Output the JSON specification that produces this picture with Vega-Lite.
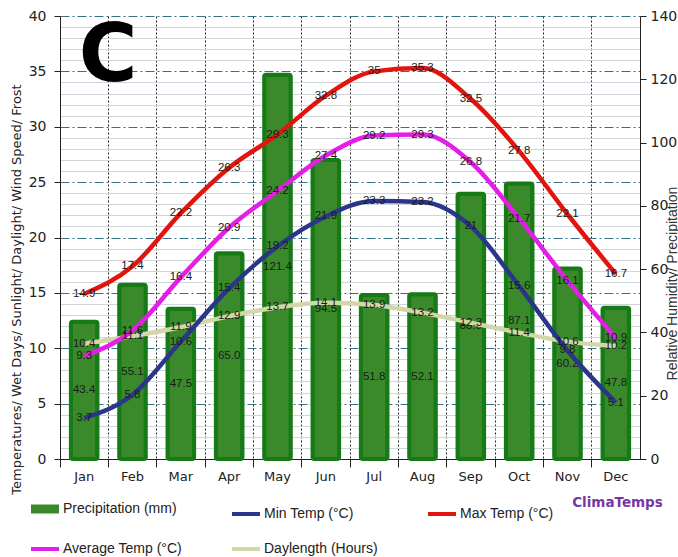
{
  "$schema": "https://vega.github.io/schema/vega-lite/v6.json",
  "width": 580,
  "height": 443,
  "autosize": {"type": "none"},
  "padding": {"left": 60, "top": 16, "right": 38, "bottom": 98},
  "background": "white",
  "config": {"view": {"stroke": null}, "text": {"font": "Liberation Sans"}},
  "datasets": {
    "precip": [
      {"month": "Jan", "precip": 43.4}, {"month": "Feb", "precip": 55.1}, {"month": "Mar", "precip": 47.5},
      {"month": "Apr", "precip": 65.0}, {"month": "May", "precip": 121.4}, {"month": "Jun", "precip": 94.5},
      {"month": "Jul", "precip": 51.8}, {"month": "Aug", "precip": 52.1}, {"month": "Sep", "precip": 83.8},
      {"month": "Oct", "precip": 87.1}, {"month": "Nov", "precip": 60.2}, {"month": "Dec", "precip": 47.8}
    ],
    "temps": [
      {"month": "Jan", "series": "Daylength (Hours)", "temp": 10.4},
      {"month": "Feb", "series": "Daylength (Hours)", "temp": 11.1},
      {"month": "Mar", "series": "Daylength (Hours)", "temp": 11.9},
      {"month": "Apr", "series": "Daylength (Hours)", "temp": 12.9},
      {"month": "May", "series": "Daylength (Hours)", "temp": 13.7},
      {"month": "Jun", "series": "Daylength (Hours)", "temp": 14.1},
      {"month": "Jul", "series": "Daylength (Hours)", "temp": 13.9},
      {"month": "Aug", "series": "Daylength (Hours)", "temp": 13.2},
      {"month": "Sep", "series": "Daylength (Hours)", "temp": 12.3},
      {"month": "Oct", "series": "Daylength (Hours)", "temp": 11.4},
      {"month": "Nov", "series": "Daylength (Hours)", "temp": 10.6},
      {"month": "Dec", "series": "Daylength (Hours)", "temp": 10.2},
      {"month": "Jan", "series": "Min Temp (°C)", "temp": 3.7},
      {"month": "Feb", "series": "Min Temp (°C)", "temp": 5.8},
      {"month": "Mar", "series": "Min Temp (°C)", "temp": 10.6},
      {"month": "Apr", "series": "Min Temp (°C)", "temp": 15.4},
      {"month": "May", "series": "Min Temp (°C)", "temp": 19.2},
      {"month": "Jun", "series": "Min Temp (°C)", "temp": 21.9},
      {"month": "Jul", "series": "Min Temp (°C)", "temp": 23.3},
      {"month": "Aug", "series": "Min Temp (°C)", "temp": 23.2},
      {"month": "Sep", "series": "Min Temp (°C)", "temp": 21},
      {"month": "Oct", "series": "Min Temp (°C)", "temp": 15.6},
      {"month": "Nov", "series": "Min Temp (°C)", "temp": 9.8},
      {"month": "Dec", "series": "Min Temp (°C)", "temp": 5.1},
      {"month": "Jan", "series": "Average Temp (°C)", "temp": 9.3},
      {"month": "Feb", "series": "Average Temp (°C)", "temp": 11.6},
      {"month": "Mar", "series": "Average Temp (°C)", "temp": 16.4},
      {"month": "Apr", "series": "Average Temp (°C)", "temp": 20.9},
      {"month": "May", "series": "Average Temp (°C)", "temp": 24.2},
      {"month": "Jun", "series": "Average Temp (°C)", "temp": 27.4},
      {"month": "Jul", "series": "Average Temp (°C)", "temp": 29.2},
      {"month": "Aug", "series": "Average Temp (°C)", "temp": 29.3},
      {"month": "Sep", "series": "Average Temp (°C)", "temp": 26.8},
      {"month": "Oct", "series": "Average Temp (°C)", "temp": 21.7},
      {"month": "Nov", "series": "Average Temp (°C)", "temp": 16.1},
      {"month": "Dec", "series": "Average Temp (°C)", "temp": 10.9},
      {"month": "Jan", "series": "Max Temp (°C)", "temp": 14.9},
      {"month": "Feb", "series": "Max Temp (°C)", "temp": 17.4},
      {"month": "Mar", "series": "Max Temp (°C)", "temp": 22.2},
      {"month": "Apr", "series": "Max Temp (°C)", "temp": 26.3},
      {"month": "May", "series": "Max Temp (°C)", "temp": 29.3},
      {"month": "Jun", "series": "Max Temp (°C)", "temp": 32.8},
      {"month": "Jul", "series": "Max Temp (°C)", "temp": 35},
      {"month": "Aug", "series": "Max Temp (°C)", "temp": 35.3},
      {"month": "Sep", "series": "Max Temp (°C)", "temp": 32.5},
      {"month": "Oct", "series": "Max Temp (°C)", "temp": 27.8},
      {"month": "Nov", "series": "Max Temp (°C)", "temp": 22.1},
      {"month": "Dec", "series": "Max Temp (°C)", "temp": 16.7}
    ],
    "annotations": [
      {"month": "Jan", "temp": 36.3, "label": "C"}
    ],
    "credit": [
      {"month": "Dec", "temp": -4.0, "label": "ClimaTemps"}
    ]
  },
  "encoding": {
    "x": {
      "field": "month", "type": "ordinal",
      "sort": ["Jan","Feb","Mar","Apr","May","Jun","Jul","Aug","Sep","Oct","Nov","Dec"],
      "scale": {"type": "band", "domain": ["Jan","Feb","Mar","Apr","May","Jun","Jul","Aug","Sep","Oct","Nov","Dec"], "paddingInner": 0, "paddingOuter": 0},
      "axis": {
        "title": null, "bandPosition": 0, "labelAngle": 0,
        "grid": true, "gridColor": "#222222", "gridDash": [2, 2], "gridWidth": 1,
        "ticks": true, "tickSize": 8, "tickColor": "#222222", "domainColor": "#222222",
        "labelFont": "DejaVu Sans", "labelFontSize": 13, "labelColor": "#222222", "labelPadding": 3
      }
    }
  },
  "layer": [
    {
      "data": {"name": "precip"},
      "mark": {"type": "bar", "width": {"band": 0.55}, "stroke": "#167a16", "strokeWidth": 4, "cornerRadius": 2},
      "encoding": {
        "y": {
          "field": "precip", "type": "quantitative", "scale": {"domain": [0, 140]},
          "axis": {
            "orient": "right", "values": [0, 20, 40, 60, 80, 100, 120, 140], "grid": false,
            "tickSize": 6, "tickColor": "#222222", "domainColor": "#222222",
            "labelFont": "DejaVu Sans", "labelFontSize": 14, "labelColor": "#222222", "labelPadding": 4,
            "title": "Relative Humidity/ Precipitation", "titleFont": "Liberation Sans", "titleFontSize": 14,
            "titleFontWeight": "normal", "titleColor": "#333333", "titleAngle": 270, "titleX": 32, "titleY": 267,
            "titleAlign": "center", "titleBaseline": "middle"
          }
        },
        "color": {
          "datum": "Precipitation (mm)", "type": "nominal", "title": null,
          "scale": {
            "domain": ["Precipitation (mm)", "Min Temp (°C)", "Max Temp (°C)", "Average Temp (°C)", "Daylength (Hours)"],
            "range": ["#3a8a2c", "#2b3589", "#e3140e", "#e41ee6", "#d3d7a8"]
          },
          "legend": {
            "orient": "none", "legendX": -22, "legendY": 486, "direction": "horizontal", "columns": 3, "title": null,
            "symbolType": "stroke", "symbolSize": 784,
            "symbolStrokeWidth": {"expr": "datum.value === 'Precipitation (mm)' ? 9 : 4"},
            "labelFont": "Liberation Sans", "labelFontSize": 14, "labelColor": "#222222", "labelOffset": 11,
            "columnPadding": 42, "rowPadding": 14, "labelLimit": 220
          }
        }
      }
    },
    {
      "data": {"name": "precip"},
      "mark": {"type": "text", "fontSize": 11.5, "color": "#1a1a1a"},
      "encoding": {
        "y": {"field": "precip", "type": "quantitative", "scale": {"domain": [0, 280]}, "axis": null},
        "text": {"field": "precip", "type": "quantitative", "format": ".1f"}
      }
    },
    {
      "data": {"name": "temps"},
      "mark": {"type": "line", "interpolate": "monotone", "strokeWidth": 4.5},
      "encoding": {
        "y": {
          "field": "temp", "type": "quantitative", "scale": {"domain": [0, 40]},
          "axis": {
            "orient": "left",
            "values": [0,1,2,3,4,5,6,7,8,9,10,11,12,13,14,15,16,17,18,19,20,21,22,23,24,25,26,27,28,29,30,31,32,33,34,35,36,37,38,39,40],
            "labelExpr": "datum.value % 5 === 0 ? datum.label : ''", "labelOverlap": false,
            "grid": true,
            "gridColor": {"condition": {"test": "datum.value % 5 === 0", "value": "#36708a"}, "value": "#cfd5da"},
            "gridDash": {"condition": {"test": "datum.value % 5 === 0", "value": [9, 3, 2, 3]}, "value": []},
            "tickOpacity": {"condition": {"test": "datum.value % 5 === 0", "value": 1}, "value": 0},
            "tickSize": 6, "tickColor": "#222222", "domainColor": "#222222",
            "labelFont": "DejaVu Sans", "labelFontSize": 14, "labelColor": "#222222", "labelPadding": 8,
            "title": "Temperatures/ Wet Days/ Sunlight/ Daylight/ Wind Speed/ Frost",
            "titleFont": "DejaVu Sans", "titleFontSize": 13, "titleFontWeight": "normal", "titleColor": "#222222",
            "titleAngle": 270, "titleX": -44, "titleY": 273, "titleAlign": "center", "titleBaseline": "middle"
          }
        },
        "color": {"field": "series", "type": "nominal", "title": null, "legend": null}
      }
    },
    {
      "data": {"name": "temps"},
      "mark": {"type": "text", "fontSize": 11.5, "color": "#1a1a1a"},
      "encoding": {
        "y": {"field": "temp", "type": "quantitative", "scale": {"domain": [0, 40]}, "axis": null},
        "text": {"field": "temp", "type": "quantitative"}
      }
    },
    {
      "data": {"name": "annotations"},
      "mark": {"type": "text", "font": "DejaVu Sans", "fontWeight": "bold", "fontSize": 80, "color": "#000000", "dx": 24, "align": "center", "baseline": "middle"},
      "encoding": {
        "y": {"field": "temp", "type": "quantitative", "scale": {"domain": [0, 40]}, "axis": null},
        "text": {"field": "label"}
      }
    },
    {
      "data": {"name": "credit"},
      "mark": {"type": "text", "font": "DejaVu Sans", "fontWeight": "bold", "fontSize": 13.5, "color": "#7638a0", "dx": 47, "align": "right", "baseline": "middle", "clip": false},
      "encoding": {
        "y": {"field": "temp", "type": "quantitative", "scale": {"domain": [0, 40]}, "axis": null},
        "text": {"field": "label"}
      }
    }
  ],
  "resolve": {"scale": {"y": "independent"}}
}
